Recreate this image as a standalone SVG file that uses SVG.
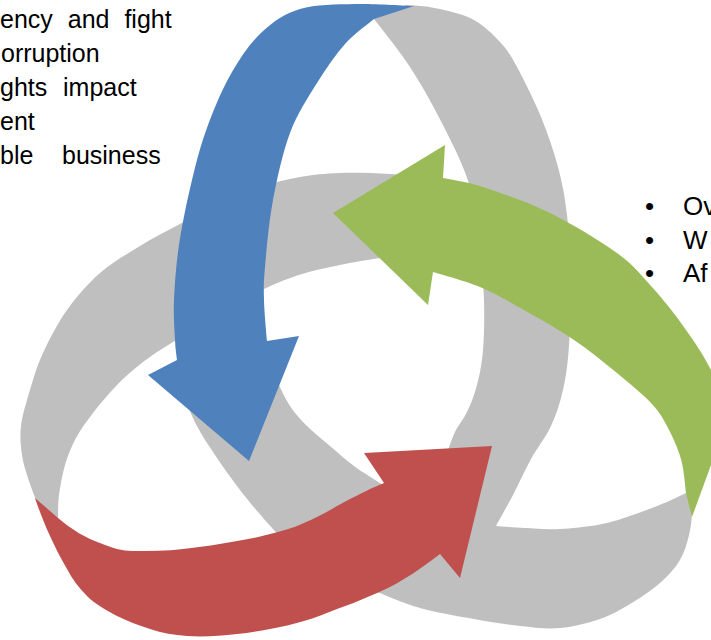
<svg xmlns="http://www.w3.org/2000/svg" width="711" height="640" viewBox="0 0 711 640">
<style>
.band{fill:#bfbfbf;stroke:none}
.blue{fill:#4f81bd}
.green{fill:#9bbb59}
.red{fill:#c0504d}
.txt{font-family:"Liberation Sans",Arial,sans-serif;font-size:25px;fill:#000}
.txr{font-family:"Liberation Sans",Arial,sans-serif;font-size:26px;fill:#000}
</style>
<rect width="711" height="640" fill="#ffffff"/>
<g id="ribbon">
<path id="band-bottom" class="band" d="M377,592 C384.2,594.7 403.8,603.5 420,608 C436.2,612.5 457.3,616 474,619 C490.7,622 505.7,624.5 520,626 C534.3,627.5 546.7,629.2 560,628 C573.3,626.8 588.3,623 600,619 C611.7,615 620,610 630,604 C640,598 651.7,590.3 660,583 C668.3,575.7 675.2,568 680,560 C684.8,552 687,543 689,535 C691,527 691.8,519.2 692,512 C692.2,504.8 690.3,495.3 690,492 L686,493 C681.2,495.2 670.2,501 657,506 C643.8,511 623.2,519.2 607,523 C590.8,526.8 573.7,528.2 560,529 C546.3,529.8 535.7,528.5 525,528 C514.3,527.5 500.8,526.3 496,526 L470,515 L390,490 L380,483 C375.7,480.2 362.3,472.2 354,466 C345.7,459.8 337.8,452.7 330,446 C322.2,439.3 313.7,432.7 307,426 C300.3,419.3 295,413.7 290,406 C285,398.3 280.7,389.3 277,380 C273.3,370.7 270.5,360 268,350 C265.5,340 263.3,328.3 262,320 C260.7,311.7 260.3,303.3 260,300 L205,300 L178,320 L177,360 C178.3,366.2 181.7,386 185,397 C188.3,408 192,416.3 197,426 C202,435.7 208.3,445 215,455 C221.7,465 229.8,476.5 237,486 C244.2,495.5 249.2,501.7 258,512 C266.8,522.3 284.7,542 290,548 L350,600 Z"/>
<path id="band-right" class="band" d="M406,5 C420.2,5.8 428.7,6.5 440,9 C451.3,11.5 464,14.5 474,20 C484,25.5 492.8,34.2 500,42 C507.2,49.8 510.2,54.5 517,67 C523.8,79.5 534.2,100.3 541,117 C547.8,133.7 553.7,150.7 558,167 C562.3,183.3 564.8,196.2 567,215 C569.2,233.8 570.7,258.2 571,280 C571.3,301.8 570.3,327.7 569,346 C567.7,364.3 566,376.7 563,390 C560,403.3 556.3,414.5 551,426 C545.7,437.5 537.2,447.8 531,459 C524.8,470.2 519.8,481.8 514,493 C508.2,504.2 499,520.5 496,526 L470,540 L446,456 C447.5,452 451.5,439.3 455,432 C458.5,424.7 463.3,419.8 467,412 C470.7,404.2 474.3,395.3 477,385 C479.7,374.7 481.8,364.2 483,350 C484.2,335.8 484.5,316.7 484,300 C483.5,283.3 482.3,268.8 480,250 C477.7,231.2 476,207.5 470,187 C464,166.5 454,147 444,127 C434,107 421.7,85 410,67 C398.3,49 380,27 374,19 L372,17 Z"/>
<path id="band-left" class="band" d="M430,178 C423.3,177.3 405,174.8 390,174 C375,173.2 355,172.5 340,173 C325,173.5 313.3,174.7 300,177 C286.7,179.3 273.3,182.7 260,187 C246.7,191.3 233.3,196.8 220,203 C206.7,209.2 193.3,216.8 180,224 C166.7,231.2 153.3,237.8 140,246 C126.7,254.2 112.2,262.3 100,273 C87.8,283.7 76.5,296.7 67,310 C57.5,323.3 49.2,339.7 43,353 C36.8,366.3 33.7,377.8 30,390 C26.3,402.2 22.3,415.2 21,426 C19.7,436.8 20.8,446.3 22,455 C23.2,463.7 25.7,470.5 28,478 C30.3,485.5 34.7,496.3 36,500 L60,521 L58,518 C58.2,514.2 57.8,503.8 59,495 C60.2,486.2 62.2,474.5 65,465 C67.8,455.5 71.3,446.7 76,438 C80.7,429.3 86.2,421.8 93,413 C99.8,404.2 108.7,393.5 117,385 C125.3,376.5 133.7,369.2 143,362 C152.3,354.8 161,349.5 173,342 C185,334.5 200.2,325.7 215,317 C229.8,308.3 247.5,297.2 262,290 C276.5,282.8 289,278.2 302,274 C315,269.8 327,267.7 340,265 C353,262.3 365,260.2 380,258 C395,255.8 421.7,253 430,252 Z"/>
</g>
<g id="arrows">
<g id="arrow-blue">
<path class="blue" d="M414,6 C404.2,5.7 374,3.5 355,4 C336,4.5 315.5,4.3 300,9 C284.5,13.7 273.3,21.5 262,32 C250.7,42.5 241,56.5 232,72 C223,87.5 214.7,107 208,125 C201.3,143 196.8,160 192,180 C187.2,200 182,225 179,245 C176,265 174.7,284.2 174,300 C173.3,315.8 174.5,330 175,340 C175.5,350 176.7,356.7 177,360 L148,375 L249,461 L299,336 L267,341 C266.5,334.2 264.3,312.3 264,300 C263.7,287.7 263.5,283.7 265,267 C266.5,250.3 268.8,222.3 273,200 C277.2,177.7 282.7,152.5 290,133 C297.3,113.5 307.8,97.8 317,83 C326.2,68.2 335.5,54.7 345,44 C354.5,33.3 369.2,23.2 374,19 Z"/>
</g>
<g id="arrow-green">
<path class="green" d="M333,213 L445,145 L443,178 C449.7,179.5 465.2,181.2 483,187 C500.8,192.8 527.7,202 550,213 C572.3,224 600.2,240.8 617,253 C633.8,265.2 640.3,274.3 651,286 C661.7,297.7 671,309 681,323 C691,337 702,352.2 711,370 C720,387.8 731,420 735,430 L711,465 L692,517 L686,493 C685.2,487.3 684.2,470.2 681,459 C677.8,447.8 672,435.3 667,426 C662,416.7 659.3,411.8 651,403 C642.7,394.2 629.8,383.5 617,373 C604.2,362.5 589.5,350.5 574,340 C558.5,329.5 539.7,318.8 524,310 C508.3,301.2 495.2,293.3 480,287 C464.8,280.7 440.8,274.5 433,272 L428,305 Z"/>
</g>
<g id="arrow-red">
<path class="red" d="M35,498 L58,518 C72,530 86,538 100,543 C112,548 122,551 133,551 C150,551 167,551 183,549 C202,547 220,544 237,541 C249,539 260,537 270,534 C282,531 293,528 304,523 C316,518 327,512 337,506 C350,499 360,494 370,489 L384,483 L364,453 L492,446 L460,578 L440,554 C428,563 416,572 404,579 C393,586 382,591 370,596 C359,601 348,605 337,609 C326,613 315,618 304,621 C293,624 282,627 270,629 C259,631 248,633 237,634 C220,636 203,637 187,636 C174,635 162,633 150,629 C138,625 127,621 117,616 C106,610 95,604 87,596 C79,588 72,579 67,569 C60,557 55,547 50,536 C44,523 39,510 35,498 Z"/>
</g>
</g>
<g id="text-left" class="txt">
<text x="0" y="28" word-spacing="8">ency and fight</text>
<text x="1" y="62">orruption</text>
<text x="0" y="96" word-spacing="8.8">ghts impact</text>
<text x="0" y="130">ent</text>
<text x="0" y="164" word-spacing="21.7">ble business</text>
</g>
<g id="text-right" class="txr">
<text x="645" y="215">•</text><text x="683" y="215">Ov</text>
<text x="645" y="249">•</text><text x="683" y="249">W</text>
<text x="645" y="282">•</text><text x="683" y="282">Af</text>
</g>
</svg>
